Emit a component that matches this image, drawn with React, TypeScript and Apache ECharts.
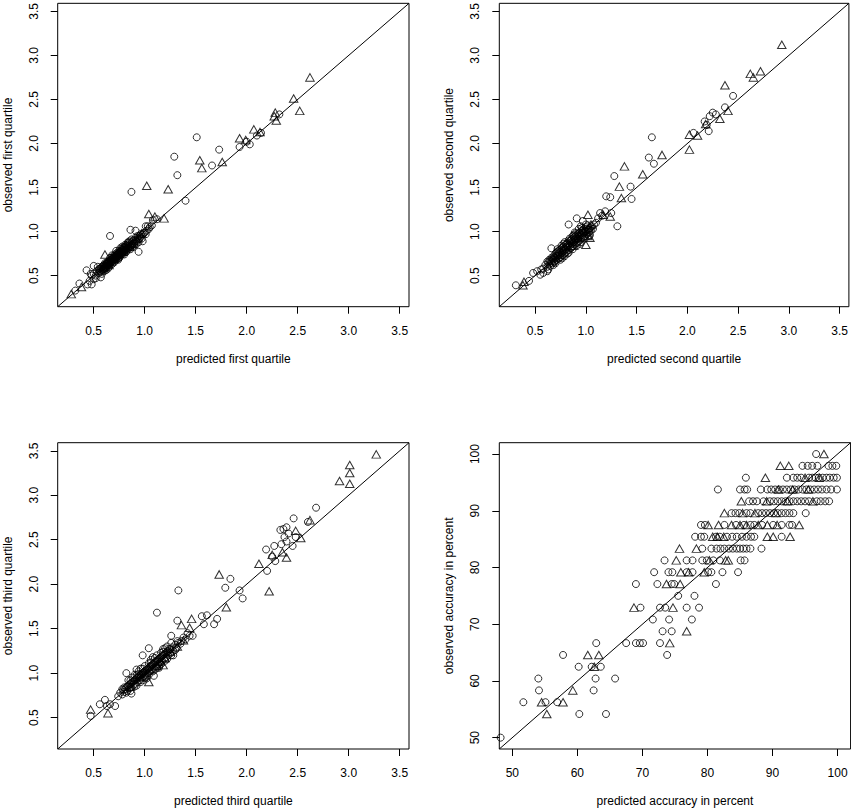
import React, { useEffect, useRef } from "react";
import * as echarts from "echarts";

// ---------- axis limits and ticks ----------
const quartileRange: [number, number] = [0.147, 3.591];
const accuracyRange: [number, number] = [48, 102];
const quartileTicks = [0.5, 1.0, 1.5, 2.0, 2.5, 3.0, 3.5];
const accuracyTicks = [50, 60, 70, 80, 90, 100];

const panelTitlesX = [
  "predicted first quartile",
  "predicted second quartile",
  "predicted third quartile",
  "predicted accuracy in percent",
];
const panelTitlesY = [
  "observed first quartile",
  "observed second quartile",
  "observed third quartile",
  "observed accuracy in percent",
];

// ---------- panel 1: first quartile ----------
const p1Circles: [number, number][] = [
  [0.50, 0.52], [0.52, 0.50], [0.53, 0.55], [0.55, 0.53], [0.55, 0.57], [0.56, 0.55], [0.57, 0.58], [0.58, 0.56],
  [0.58, 0.60], [0.59, 0.57], [0.60, 0.59], [0.60, 0.62], [0.61, 0.58], [0.61, 0.61], [0.62, 0.60], [0.62, 0.63],
  [0.63, 0.61], [0.63, 0.65], [0.64, 0.62], [0.64, 0.64], [0.65, 0.63], [0.65, 0.66], [0.66, 0.64], [0.66, 0.67],
  [0.67, 0.65], [0.67, 0.68], [0.68, 0.66], [0.68, 0.69], [0.69, 0.67], [0.69, 0.70], [0.70, 0.68], [0.70, 0.71],
  [0.71, 0.69], [0.71, 0.72], [0.72, 0.70], [0.72, 0.73], [0.73, 0.71], [0.73, 0.74], [0.74, 0.72], [0.74, 0.75],
  [0.75, 0.73], [0.75, 0.76], [0.76, 0.74], [0.76, 0.77], [0.77, 0.75], [0.77, 0.78], [0.78, 0.76], [0.78, 0.79],
  [0.79, 0.77], [0.79, 0.80], [0.80, 0.78], [0.80, 0.82], [0.81, 0.79], [0.81, 0.83], [0.82, 0.80], [0.82, 0.84],
  [0.83, 0.81], [0.83, 0.85], [0.84, 0.82], [0.85, 0.84], [0.85, 0.87], [0.86, 0.83], [0.87, 0.86], [0.88, 0.85],
  [0.88, 0.89], [0.89, 0.87], [0.90, 0.88], [0.91, 0.90], [0.92, 0.89], [0.93, 0.93], [0.94, 0.91], [0.95, 0.95],
  [0.96, 0.94], [0.98, 0.97], [1.00, 0.99], [1.02, 1.01], [1.04, 1.03],
  [0.58, 0.52], [0.62, 0.56], [0.66, 0.70], [0.70, 0.65], [0.72, 0.78], [0.75, 0.70], [0.78, 0.83], [0.80, 0.74],
  [0.84, 0.88], [0.86, 0.80], [0.64, 0.58], [0.68, 0.73], [0.74, 0.68], [0.76, 0.81], [0.82, 0.77], [0.87, 0.91],
  [0.90, 0.84], [0.54, 0.60], [0.60, 0.55], [0.52, 0.47], [0.48, 0.50], [0.46, 0.44], [0.50, 0.46], [0.47, 0.52],
  [0.56, 0.58], [0.57, 0.54], [0.59, 0.61], [0.60, 0.57], [0.61, 0.64], [0.62, 0.58], [0.63, 0.63], [0.64, 0.66],
  [0.65, 0.60], [0.66, 0.62], [0.67, 0.70], [0.68, 0.63], [0.69, 0.72], [0.70, 0.66], [0.71, 0.74], [0.72, 0.68],
  [0.73, 0.76], [0.74, 0.70], [0.75, 0.78], [0.76, 0.72], [0.77, 0.80], [0.78, 0.74], [0.79, 0.82], [0.80, 0.76],
  [0.81, 0.85], [0.82, 0.78], [0.83, 0.87], [0.84, 0.80], [0.85, 0.89], [0.86, 0.82], [0.87, 0.84], [0.88, 0.82],
  [0.89, 0.90], [0.90, 0.86], [0.91, 0.93], [0.92, 0.86], [0.93, 0.95], [0.94, 0.88], [0.95, 0.92], [0.96, 0.97],
  [0.97, 0.92], [0.99, 0.98], [1.01, 0.97], [1.03, 1.06], [0.71, 0.71], [0.73, 0.73], [0.75, 0.75], [0.77, 0.77],
  [0.79, 0.79], [0.81, 0.81], [0.83, 0.83], [0.69, 0.69], [0.67, 0.67], [0.65, 0.65],
  // outliers
  [2.32, 2.33], [2.14, 2.12], [2.10, 2.09], [1.93, 1.96], [2.00, 2.02], [2.03, 1.99], [1.51, 2.07], [1.73, 1.93],
  [1.66, 1.75], [1.29, 1.85], [1.32, 1.64], [1.40, 1.35], [0.87, 1.45], [1.08, 1.13], [1.07, 1.07], [1.01, 1.06],
  [0.98, 0.89], [0.94, 0.77], [0.66, 0.95], [0.86, 1.02], [0.91, 1.01], [0.43, 0.56], [0.48, 0.40], [0.44, 0.40],
  [0.57, 0.48], [0.32, 0.33], [0.36, 0.41], [0.50, 0.61], [1.12, 1.14], [1.05, 1.05],
];
const p1Triangles: [number, number][] = [
  [2.62, 2.75], [2.46, 2.51], [2.52, 2.37], [2.28, 2.35], [2.29, 2.26], [2.27, 2.31], [2.07, 2.16], [2.13, 2.13],
  [1.93, 2.06], [1.99, 2.04], [1.54, 1.81], [1.56, 1.72], [1.76, 1.79], [1.02, 1.52], [1.23, 1.48], [1.04, 1.20],
  [1.19, 1.15], [1.10, 1.17], [0.61, 0.74], [0.28, 0.29], [0.38, 0.37],
  [0.70, 0.69], [0.78, 0.77], [0.85, 0.83], [0.65, 0.62], [0.92, 0.92], [0.60, 0.60], [0.88, 0.86], [0.97, 0.98],
];

// ---------- panel 2: second quartile ----------
const p2Circles: [number, number][] = [
  [0.60, 0.62], [0.62, 0.60], [0.62, 0.66], [0.64, 0.63], [0.64, 0.68], [0.65, 0.61], [0.66, 0.66], [0.66, 0.70],
  [0.67, 0.64], [0.68, 0.68], [0.68, 0.72], [0.69, 0.66], [0.70, 0.70], [0.70, 0.75], [0.71, 0.68], [0.72, 0.72],
  [0.72, 0.77], [0.73, 0.69], [0.74, 0.74], [0.74, 0.79], [0.75, 0.71], [0.76, 0.76], [0.76, 0.81], [0.77, 0.73],
  [0.78, 0.78], [0.78, 0.83], [0.79, 0.75], [0.80, 0.80], [0.80, 0.85], [0.81, 0.77], [0.82, 0.82], [0.82, 0.87],
  [0.83, 0.79], [0.84, 0.84], [0.84, 0.89], [0.85, 0.81], [0.86, 0.86], [0.86, 0.91], [0.87, 0.83], [0.88, 0.88],
  [0.88, 0.93], [0.89, 0.85], [0.90, 0.90], [0.90, 0.95], [0.91, 0.87], [0.92, 0.92], [0.92, 0.97], [0.93, 0.89],
  [0.94, 0.94], [0.94, 0.99], [0.95, 0.91], [0.96, 0.96], [0.96, 1.01], [0.97, 0.93], [0.98, 0.98], [0.98, 1.03],
  [0.99, 0.95], [1.00, 1.00], [1.00, 1.05], [1.01, 0.97], [1.02, 1.02], [1.02, 1.07], [1.03, 0.99], [1.04, 1.04],
  [1.05, 1.01], [1.06, 1.06], [1.07, 1.03], [1.08, 1.08], [1.10, 1.10], [0.74, 0.70], [0.80, 0.76], [0.86, 0.82],
  [0.92, 0.88], [0.98, 0.94], [0.72, 0.80], [0.78, 0.86], [0.84, 0.92], [0.90, 0.98], [0.96, 1.04], [1.04, 0.96],
  [0.70, 0.64], [0.76, 0.84], [0.82, 0.75], [0.88, 0.96], [0.94, 0.86], [1.00, 1.08], [0.58, 0.58], [0.56, 0.57],
  [0.63, 0.57],
  [0.63, 0.65], [0.65, 0.67], [0.67, 0.69], [0.69, 0.71], [0.71, 0.73], [0.73, 0.75], [0.75, 0.77], [0.77, 0.79],
  [0.79, 0.81], [0.81, 0.83], [0.83, 0.85], [0.85, 0.87], [0.87, 0.89], [0.89, 0.91], [0.91, 0.93], [0.93, 0.95],
  [0.95, 0.97], [0.97, 0.99], [0.99, 1.01], [1.01, 1.03], [1.03, 1.02], [0.73, 0.78], [0.77, 0.82], [0.81, 0.86],
  [0.85, 0.90], [0.89, 0.94], [0.93, 0.98], [0.97, 1.02], [0.75, 0.68], [0.79, 0.72], [0.83, 0.76], [0.87, 0.80],
  [0.91, 0.84], [0.95, 0.88], [0.99, 0.92], [1.03, 0.95], [0.71, 0.76], [0.87, 0.95], [0.93, 1.03], [0.83, 0.90],
  [0.68, 0.62], [0.79, 0.88], [0.89, 0.99], [0.77, 0.70], [0.95, 1.06],
  // outliers
  [2.45, 2.54], [2.37, 2.41], [2.25, 2.35], [2.17, 2.25], [2.19, 2.21], [2.21, 2.14], [2.22, 2.31], [2.28, 2.33],
  [2.06, 2.12], [1.65, 2.07], [1.62, 1.84], [1.67, 1.77], [1.28, 1.63], [1.44, 1.51], [1.45, 1.37], [1.20, 1.40],
  [1.24, 1.39], [1.31, 1.06], [1.19, 1.23], [1.14, 1.21], [1.25, 1.21], [0.91, 1.15], [0.97, 1.12], [0.83, 1.08],
  [0.66, 0.81], [0.31, 0.39], [0.44, 0.44], [0.48, 0.53], [0.52, 0.55], [0.55, 0.51], [0.58, 0.53], [0.62, 0.55],
  [0.69, 0.65], [1.12, 1.15], [1.16, 1.18],
];
const p2Triangles: [number, number][] = [
  [2.93, 3.12], [2.62, 2.79], [2.72, 2.82], [2.65, 2.75], [2.37, 2.66], [2.40, 2.37], [2.32, 2.28], [2.18, 2.22],
  [2.02, 2.10], [2.10, 2.09], [2.02, 1.93], [1.75, 1.87], [1.38, 1.74], [1.56, 1.65], [1.33, 1.51], [1.35, 1.38],
  [1.24, 1.17], [1.17, 1.19], [1.02, 1.19], [1.00, 0.85], [1.02, 0.95], [1.04, 0.93], [0.38, 0.39], [0.39, 0.43],
  [0.70, 0.71], [0.78, 0.80], [0.85, 0.84], [0.92, 0.93], [0.98, 1.00], [1.03, 1.05], [0.88, 0.84], [0.75, 0.74],
  [1.05, 1.08], [0.66, 0.67],
];

// ---------- panel 3: third quartile ----------
const p3Circles: [number, number][] = [
  [0.74, 0.74], [0.76, 0.78], [0.78, 0.76], [0.79, 0.81], [0.80, 0.79], [0.82, 0.84], [0.83, 0.80], [0.84, 0.86],
  [0.85, 0.83], [0.86, 0.88], [0.87, 0.84], [0.88, 0.90], [0.89, 0.87], [0.90, 0.92], [0.91, 0.88], [0.92, 0.94],
  [0.93, 0.90], [0.94, 0.96], [0.95, 0.92], [0.96, 0.98], [0.97, 0.94], [0.98, 1.00], [0.99, 0.96], [1.00, 1.02],
  [1.01, 0.98], [1.02, 1.04], [1.03, 1.00], [1.04, 1.06], [1.05, 1.02], [1.06, 1.08], [1.07, 1.04], [1.08, 1.10],
  [1.09, 1.06], [1.10, 1.12], [1.11, 1.08], [1.12, 1.14], [1.13, 1.10], [1.14, 1.16], [1.15, 1.12], [1.16, 1.18],
  [1.17, 1.14], [1.18, 1.20], [1.19, 1.16], [1.20, 1.22], [1.21, 1.18], [1.22, 1.24], [1.23, 1.20], [1.24, 1.27],
  [1.25, 1.22], [1.27, 1.29], [1.28, 1.25], [1.30, 1.32], [1.31, 1.28], [1.33, 1.34], [1.35, 1.33], [0.88, 0.95],
  [0.94, 1.02], [1.00, 1.08], [1.06, 1.15], [1.12, 1.20], [1.18, 1.27], [0.92, 0.86], [0.98, 0.92], [1.04, 0.98],
  [1.10, 1.04], [1.16, 1.10], [1.22, 1.16], [0.84, 0.92], [0.96, 1.05], [1.08, 1.18], [1.02, 0.94], [1.14, 1.06],
  [0.82, 0.78], [0.80, 0.84], [0.86, 0.80], [0.90, 0.98], [1.20, 1.28], [1.26, 1.34], [1.28, 1.20], [1.36, 1.36],
  [1.38, 1.40], [1.40, 1.38], [1.42, 1.45], [1.44, 1.42],
  [0.81, 0.82], [0.83, 0.85], [0.85, 0.87], [0.87, 0.89], [0.89, 0.91], [0.91, 0.93], [0.93, 0.95], [0.95, 0.97],
  [0.97, 0.99], [0.99, 1.01], [1.01, 1.03], [1.03, 1.05], [1.05, 1.07], [1.07, 1.09], [1.09, 1.11], [1.11, 1.13],
  [1.13, 1.15], [1.15, 1.17], [1.17, 1.19], [1.19, 1.21], [1.21, 1.23], [1.23, 1.25], [1.25, 1.27], [0.86, 0.92],
  [0.92, 0.98], [0.98, 1.05], [1.04, 1.11], [1.10, 1.17], [1.16, 1.23], [1.22, 1.30], [0.90, 0.85], [0.96, 0.90],
  [1.02, 0.96], [1.08, 1.02], [1.14, 1.08], [1.20, 1.14], [1.26, 1.20], [0.94, 0.99], [1.00, 0.95], [1.06, 1.12],
  [1.12, 1.06], [1.18, 1.24], [0.78, 0.82], [1.30, 1.26], [1.32, 1.36],
  // outliers
  [2.68, 2.86], [2.60, 2.70], [2.46, 2.74], [2.48, 2.53], [2.33, 2.61], [2.39, 2.64], [2.37, 2.53], [2.45, 2.43],
  [2.27, 2.43], [2.34, 2.45], [2.39, 2.48], [2.19, 2.39], [2.25, 2.31], [2.28, 2.26], [2.20, 2.15], [1.84, 2.06],
  [1.79, 1.96], [1.93, 1.93], [1.96, 1.84], [1.33, 1.93], [1.12, 1.68], [1.56, 1.64], [1.61, 1.65], [1.58, 1.55],
  [1.71, 1.61], [1.68, 1.55], [1.32, 1.59], [1.47, 1.42], [1.04, 1.28], [0.98, 1.20], [1.26, 1.42], [0.87, 0.77],
  [0.56, 0.65], [0.61, 0.70], [0.66, 0.65], [0.71, 0.63], [0.63, 0.63], [0.47, 0.52], [0.82, 1.00], [0.92, 1.04],
  [1.09, 0.97], [2.41, 2.57], [2.36, 2.62],
];
const p3Triangles: [number, number][] = [
  [3.27, 3.46], [3.01, 3.34], [3.01, 3.25], [3.01, 3.13], [2.91, 3.16], [2.62, 2.72], [2.48, 2.60], [2.53, 2.52],
  [2.25, 2.33], [2.39, 2.30], [2.12, 2.23], [2.22, 1.92], [1.73, 2.11], [1.80, 1.74], [1.46, 1.61], [1.36, 1.54],
  [1.44, 1.51], [0.47, 0.59], [0.64, 0.55], [1.04, 0.90], [1.18, 1.09], [2.35, 2.36],
  [0.95, 0.96], [1.05, 1.04], [1.15, 1.13], [1.25, 1.24], [1.32, 1.30], [1.12, 1.08], [1.00, 1.00], [1.20, 1.17],
  [1.38, 1.37], [0.86, 0.85],
];

// ---------- panel 4: accuracy in percent ----------
const p4Circles: [number, number][] = [
  [96.7, 100],
  [94.6, 97.92], [95.4, 97.92], [96.1, 97.92], [96.9, 97.92], [98.6, 97.92], [99.2, 97.92], [99.8, 97.92],
  [85.9, 95.83], [92.2, 95.83], [93.2, 95.83], [93.8, 95.83], [94.4, 95.83], [95.6, 95.83], [96.1, 95.83],
  [96.6, 95.83], [97.1, 95.83], [97.7, 95.83], [98.3, 95.83], [98.8, 95.83], [99.4, 95.83], [99.9, 95.83],
  [81.6, 93.75], [85.0, 93.75], [85.7, 93.75], [86.1, 93.75], [88.2, 93.75], [89.2, 93.75], [89.8, 93.75],
  [90.4, 93.75], [91.0, 93.75], [91.6, 93.75], [92.2, 93.75], [92.8, 93.75], [93.4, 93.75], [94.0, 93.75],
  [94.6, 93.75], [95.2, 93.75], [95.8, 93.75], [96.4, 93.75], [97.0, 93.75], [97.6, 93.75], [98.3, 93.75],
  [99.0, 93.75], [99.9, 93.75],
  [86.4, 91.67], [87.0, 91.67], [87.6, 91.67], [88.6, 91.67], [89.6, 91.67], [90.2, 91.67], [90.8, 91.67],
  [91.4, 91.67], [92.0, 91.67], [92.6, 91.67], [93.2, 91.67], [93.8, 91.67], [94.4, 91.67], [95.0, 91.67],
  [95.6, 91.67], [96.8, 91.67], [97.4, 91.67], [98.1, 91.67], [98.7, 91.67],
  [83.7, 89.58], [84.3, 89.58], [84.9, 89.58], [86.0, 89.58], [86.6, 89.58], [87.8, 89.58], [88.4, 89.58],
  [89.0, 89.58], [89.6, 89.58], [90.2, 89.58], [90.8, 89.58], [91.4, 89.58], [92.0, 89.58], [92.6, 89.58],
  [93.2, 89.58], [95.1, 89.58],
  [79.0, 87.5], [79.6, 87.5], [82.6, 87.5], [84.4, 87.5], [85.6, 87.5], [86.6, 87.5], [87.2, 87.5], [88.4, 87.5],
  [90.1, 87.5], [91.4, 87.5], [92.6, 87.5], [93.0, 87.5],
  [78.1, 85.42], [79.0, 85.42], [79.5, 85.42], [81.3, 85.42], [81.9, 85.42], [83.0, 85.42], [83.8, 85.42],
  [84.5, 85.42], [85.3, 85.42], [86.0, 85.42], [86.7, 85.42], [87.2, 85.42], [91.4, 85.42],
  [79.2, 83.33], [80.6, 83.33], [81.4, 83.33], [82.0, 83.33], [82.6, 83.33], [83.3, 83.33], [83.9, 83.33],
  [84.5, 83.33], [85.0, 83.33], [85.5, 83.33], [86.0, 83.33], [86.6, 83.33], [88.3, 83.33],
  [73.4, 81.25], [76.8, 81.25], [77.7, 81.25], [79.2, 81.25], [79.9, 81.25], [80.9, 81.25], [81.9, 81.25],
  [85.1, 81.25], [85.7, 81.25],
  [71.8, 79.17], [74.0, 79.17], [74.6, 79.17], [76.8, 79.17], [77.7, 79.17], [80.1, 79.17], [80.6, 79.17],
  [82.3, 79.17], [84.7, 79.17],
  [69.0, 77.08], [72.3, 77.08], [74.5, 77.08], [74.9, 77.08], [81.3, 77.08],
  [75.5, 75], [78.0, 75],
  [69.7, 72.92], [72.7, 72.92], [73.5, 72.92], [76.8, 72.92], [78.7, 72.92],
  [71.6, 70.83], [74.1, 70.83], [77.6, 70.83],
  [73.1, 68.75], [74.5, 68.75],
  [67.5, 66.67], [69.0, 66.67], [69.6, 66.67], [70.1, 66.67], [72.7, 66.67], [62.9, 66.67],
  [57.8, 64.58], [73.8, 64.58],
  [60.2, 62.5], [62.2, 62.5], [63.6, 62.5],
  [54.0, 60.42], [62.8, 60.42], [65.8, 60.42],
  [54.1, 58.33], [62.5, 58.33],
  [51.7, 56.25], [55.1, 56.25], [56.9, 56.25],
  [60.3, 54.17], [64.4, 54.17],
  [48.2, 50],
];
const p4Triangles: [number, number][] = [
  [97.9, 100],
  [91.2, 97.92], [92.5, 97.92],
  [88.9, 95.83], [95.0, 95.83], [97.2, 95.83],
  [90.9, 93.75], [93.1, 93.75], [95.5, 93.75],
  [85.2, 91.67], [89.1, 91.67], [92.3, 91.67], [96.2, 91.67],
  [82.6, 89.58], [85.4, 89.58], [87.3, 89.58], [90.5, 89.58],
  [80.1, 87.5], [81.7, 87.5], [83.7, 87.5], [85.0, 87.5], [86.0, 87.5], [87.8, 87.5], [89.2, 87.5], [90.7, 87.5],
  [94.1, 87.5],
  [80.8, 85.42], [81.5, 85.42], [82.5, 85.42], [89.2, 85.42], [90.1, 85.42], [92.7, 85.42],
  [75.7, 83.33], [78.3, 83.33],
  [75.2, 81.25], [80.3, 81.25], [82.8, 81.25], [83.2, 81.25],
  [75.9, 79.17], [77.1, 79.17], [79.5, 79.17],
  [73.7, 77.08], [75.8, 77.08],
  [68.7, 72.92], [74.7, 72.92],
  [76.8, 68.75],
  [74.2, 66.67],
  [61.6, 64.58], [63.3, 64.58],
  [62.6, 62.5],
  [59.3, 58.33],
  [54.5, 56.25], [57.8, 56.25],
  [55.3, 54.17],
];

const FONT = "'Liberation Sans', Arial, Helvetica, sans-serif";
const INK = "#000";

const grids = [
  { left: 57.7, top: 1, width: 351.3, height: 305.7 },
  { left: 499.3, top: 1, width: 351.3, height: 305.7 },
  { left: 57.7, top: 442.7, width: 351.3, height: 306.3 },
  { left: 499.3, top: 442.7, width: 351.3, height: 306.3 },
];

const panels = [
  { circles: p1Circles, triangles: p1Triangles, range: quartileRange, ticks: quartileTicks, dec: 1 },
  { circles: p2Circles, triangles: p2Triangles, range: quartileRange, ticks: quartileTicks, dec: 1 },
  { circles: p3Circles, triangles: p3Triangles, range: quartileRange, ticks: quartileTicks, dec: 1 },
  { circles: p4Circles, triangles: p4Triangles, range: accuracyRange, ticks: accuracyTicks, dec: 0 },
];

function buildOption() {
  const xAxis: any[] = [];
  const yAxis: any[] = [];
  const series: any[] = [];
  panels.forEach((p, i) => {
    const common = {
      type: "value",
      gridIndex: i,
      min: p.range[0],
      max: p.range[1],
      nameLocation: "middle",
      nameTextStyle: { fontSize: 12, color: INK, fontFamily: FONT },
      axisLine: { show: false },
      splitLine: { show: false },
      axisTick: {
        show: true,
        inside: false,
        length: 7,
        customValues: p.ticks,
        lineStyle: { color: INK, width: 1 },
      },
    };
    xAxis.push({
      ...common,
      name: panelTitlesX[i],
      nameGap: 46,
      axisLabel: {
        customValues: p.ticks,
        formatter: (v: number) => v.toFixed(p.dec),
        margin: 18,
        fontSize: 12,
        color: INK,
        fontFamily: FONT,
      },
    });
    yAxis.push({
      ...common,
      name: panelTitlesY[i],
      nameGap: 44,
      nameRotate: 90,
      axisLabel: {
        customValues: p.ticks,
        formatter: (v: number) => v.toFixed(p.dec),
        margin: 18,
        rotate: 90,
        fontSize: 12,
        color: INK,
        fontFamily: FONT,
      },
    });
    series.push({
      type: "line",
      xAxisIndex: i,
      yAxisIndex: i,
      data: [
        [p.range[0], p.range[0]],
        [p.range[1], p.range[1]],
      ],
      symbol: "none",
      silent: true,
      lineStyle: { color: INK, width: 1 },
      z: 1,
    });
    series.push({
      type: "scatter",
      xAxisIndex: i,
      yAxisIndex: i,
      data: p.circles,
      symbol: "circle",
      symbolSize: 7,
      silent: true,
      itemStyle: { color: "rgba(0,0,0,0)", borderColor: INK, borderWidth: 1 },
      z: 2,
    });
    series.push({
      type: "scatter",
      xAxisIndex: i,
      yAxisIndex: i,
      data: p.triangles,
      symbol: "triangle",
      symbolSize: [8.5, 7.5],
      silent: true,
      itemStyle: { color: "rgba(0,0,0,0)", borderColor: INK, borderWidth: 1 },
      z: 2,
    });
  });
  return {
    animation: false,
    backgroundColor: "#fff",
    textStyle: { fontFamily: FONT },
    grid: grids.map((g) => ({
      ...g,
      show: true,
      borderColor: INK,
      borderWidth: 1,
      backgroundColor: "rgba(0,0,0,0)",
      containLabel: false,
    })),
    xAxis,
    yAxis,
    series,
  };
}

export default function App() {
  const ref = useRef<HTMLDivElement>(null);
  useEffect(() => {
    if (!ref.current) return;
    const chart = echarts.init(ref.current, undefined, { renderer: "svg" });
    chart.setOption(buildOption() as any);
    return () => chart.dispose();
  }, []);
  return (
    <div
      ref={ref}
      style={{ position: "fixed", left: 0, top: 0, width: 851, height: 808, background: "#fff" }}
    />
  );
}
